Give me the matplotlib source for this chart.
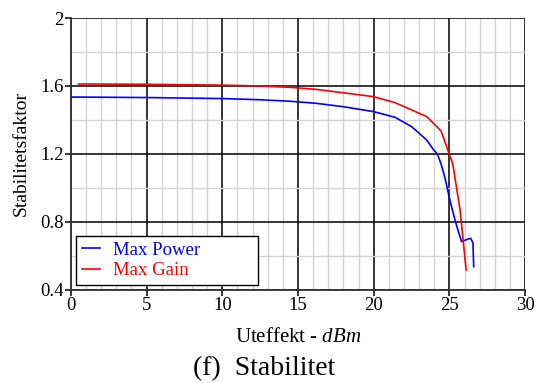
import matplotlib
matplotlib.use('Agg')
import matplotlib.pyplot as plt
from matplotlib.ticker import MultipleLocator

# --- data ---
power_x = [0.0, 5.0, 10.0, 12.5, 14.5, 16.2, 18.0, 20.0, 21.4, 22.5, 23.5,
           23.95, 24.2, 24.45, 24.7, 25.05, 25.4, 25.6, 25.8, 26.1, 26.4,
           26.55, 26.6]
power_y = [1.535, 1.532, 1.526, 1.519, 1.510, 1.498, 1.478, 1.449, 1.416,
           1.361, 1.282, 1.224, 1.20, 1.14, 1.06, 0.92, 0.80, 0.74, 0.684,
           0.695, 0.704, 0.676, 0.537]

gain_x = [0.5, 5.0, 10.0, 12.5, 14.5, 16.2, 18.0, 20.0, 21.4, 22.5, 23.5,
          24.45, 25.22, 25.7, 26.1]
gain_y = [1.612, 1.610, 1.605, 1.600, 1.592, 1.580, 1.560, 1.537, 1.502,
          1.459, 1.420, 1.335, 1.140, 0.870, 0.518]

x_ticks = [0, 5, 10, 15, 20, 25, 30]
y_ticks = [0.4, 0.8, 1.2, 1.6, 2.0]
y_labels = ['0.4', '0.8', '1.2', '1.6', '2']

plt.rcParams['font.family'] = ['Liberation Serif', 'DejaVu Serif']
plt.rcParams['mathtext.fontset'] = 'custom'
plt.rcParams['mathtext.it'] = 'Liberation Serif:italic'

fig = plt.figure(figsize=(5.37, 3.83), dpi=100)
ax = fig.add_axes([0.132, 0.243, 0.846, 0.71])

ax.plot(power_x, power_y, color='#0000ff', lw=1.2, label='Max Power', zorder=3)
ax.plot(gain_x, gain_y, color='#ff0000', lw=1.2, label='Max Gain', zorder=3)

ax.set_xlim(0, 30)
ax.set_ylim(0.4, 2.0)
ax.set_xticks(x_ticks)
ax.set_yticks(y_ticks)
ax.set_yticklabels(y_labels)
ax.xaxis.set_minor_locator(MultipleLocator(1))
ax.yaxis.set_minor_locator(MultipleLocator(0.2))
ax.grid(which='minor', color='#d4d4d4', lw=1.0, zorder=0)
ax.grid(which='major', color='black', lw=1.1, zorder=1)
ax.set_axisbelow(True)

for s in ['top', 'right']:
    ax.spines[s].set_visible(False)
for s in ['left', 'bottom']:
    ax.spines[s].set_color('#333333')
    ax.spines[s].set_linewidth(1.3)
ax.tick_params(which='major', direction='out', length=4, width=1.1,
               labelsize=13.5, pad=1)
ax.tick_params(which='minor', length=0)

ax.set_xlabel('Uteffekt - $\\mathit{dBm}$', fontsize=15, labelpad=10)
ax.set_ylabel('Stabilitetsfaktor', fontsize=14, labelpad=8)

leg = ax.legend(loc='lower left', fontsize=13.5, frameon=True, fancybox=False,
                edgecolor='black', framealpha=1, handlelength=1.0,
                borderpad=0.3, labelspacing=0.2, handletextpad=0.7,
                borderaxespad=0, mode='expand',
                bbox_to_anchor=(0.011, 0.018, 0.401, 0.184))
leg.get_frame().set_linewidth(1.0)
for txt, line in zip(leg.get_texts(), leg.get_lines()):
    txt.set_color(line.get_color())

fig.text(0.492, 0.037, '(f)  Stabilitet', fontsize=20, ha='center', va='center')

fig.savefig('out.png', dpi=100)
